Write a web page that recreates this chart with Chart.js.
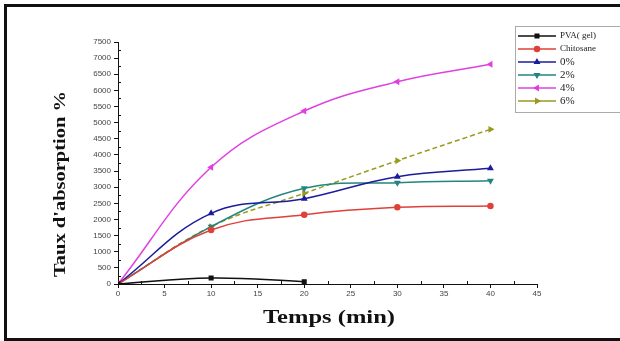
<!DOCTYPE html>
<html><head><meta charset="utf-8">
<script src="https://cdn.jsdelivr.net/npm/chart.js@4/dist/chart.umd.min.js"></script>
<style>
html,body{margin:0;padding:0;background:#fff;}
#wrap{position:absolute;left:0;top:0;width:620px;height:341px;}
#frame{position:absolute;left:4px;top:4px;width:620px;height:331px;border:3px solid #111;box-sizing:content-box;pointer-events:none;}
canvas{position:absolute;left:0;top:0;}
</style></head>
<body>
<div id="wrap"><canvas id="c" width="620" height="341"></canvas><div id="frame"></div></div>
<script>
const timesPVA = [0, 10, 20];
const timesAll = [0, 10, 20, 30, 40];
const pva = [0, 186, 72];
const chitosane = [0, 1673, 2148, 2376, 2417];
const s0 = [0, 2190, 2644, 3326, 3584];
const s2 = [0, 1777, 2965, 3140, 3202];
const s4 = [0, 3616, 5361, 6270, 6808];
const s6 = [0, 1777, 2810, 3822, 4793];
const seriesLabels = ['PVA( gel)', 'Chitosane', '0%', '2%', '4%', '6%'];
const xTicks = [0, 5, 10, 15, 20, 25, 30, 35, 40, 45];

function pts(xs, ys){ return ys.map((v,i)=>({x:xs[i], y:v})); }

const styles = [
  {c:'#111111', p:'rect', r:0, d:[]},
  {c:'#e0403a', p:'circle', r:0, d:[]},
  {c:'#1c1c9a', p:'triangle', r:0, d:[]},
  {c:'#23857f', p:'triangle', r:180, d:[]},
  {c:'#e040e0', p:'triangle', r:-90, d:[]},
  {c:'#9a9a1e', p:'triangle', r:90, d:[5,3]}
];
const allData = [pts(timesPVA,pva), pts(timesAll,chitosane), pts(timesAll,s0), pts(timesAll,s2), pts(timesAll,s4), pts(timesAll,s6)];

const datasets = allData.map((d,i)=>({
  label: seriesLabels[i], data: d,
  borderColor: styles[i].c, backgroundColor: styles[i].c,
  pointStyle: styles[i].p, pointRotation: styles[i].r,
  pointRadius: 2.5, borderWidth: 1.5, borderDash: styles[i].d,
  tension: 0.4, fill: false
}));

function fitText(ctx, text, cx, cy, width, font, rot){
  ctx.save();
  ctx.font = font;
  const w = ctx.measureText(text).width;
  ctx.translate(cx, cy);
  if (rot) ctx.rotate(rot);
  ctx.scale(width / w, 1);
  ctx.textAlign = 'center'; ctx.textBaseline = 'middle';
  ctx.fillText(text, 0, 0);
  ctx.restore();
}

const extras = {
  id:'extras',
  afterDraw(chart){
    const ctx = chart.ctx;
    const xs = chart.scales.x, ys = chart.scales.y;
    ctx.save();
    ctx.strokeStyle = '#111'; ctx.lineWidth = 1;
    for (let v = 2.5; v < 45; v += 5){
      const px = Math.round(xs.getPixelForValue(v)) + 0.5;
      ctx.beginPath(); ctx.moveTo(px, ys.bottom); ctx.lineTo(px, ys.bottom - 3); ctx.stroke();
    }
    for (let v = 250; v < 7500; v += 500){
      const py = Math.round(ys.getPixelForValue(v)) + 0.5;
      ctx.beginPath(); ctx.moveTo(xs.left, py); ctx.lineTo(xs.left + 3, py); ctx.stroke();
    }
    ctx.fillStyle = '#111';
    fitText(ctx, 'Temps (min)', 329, 318, 132, 'bold 18px "Liberation Serif", "DejaVu Serif", serif', 0);
    fitText(ctx, "Taux d'absorption %", 61, 184, 186, 'bold 17px "Liberation Serif", "DejaVu Serif", serif', -Math.PI/2);
    // legend
    const lx = 515, ly = 26, lw = 110, lh = 86;
    ctx.strokeStyle = '#aaa'; ctx.lineWidth = 1;
    ctx.strokeRect(lx + 0.5, ly + 0.5, lw, lh);
    chart.data.datasets.forEach((ds, i)=>{
      const y = 36 + i * 13;
      ctx.strokeStyle = ds.borderColor; ctx.lineWidth = 1.5; ctx.setLineDash([]);
      ctx.beginPath(); ctx.moveTo(518, y); ctx.lineTo(556, y); ctx.stroke();
      Chart.helpers.drawPoint(ctx, {pointStyle: ds.pointStyle, rotation: ds.pointRotation, radius: 2.5, borderWidth: 1}, 537, y);
      ctx.fillStyle = ds.borderColor;
      ctx.fill();
      ctx.fillStyle = '#222';
      ctx.font = (i < 2 ? '9px' : '11px') + ' "Liberation Serif", "DejaVu Serif", serif';
      ctx.textAlign = 'left'; ctx.textBaseline = 'middle';
      ctx.fillText(ds.label, 560, y);
    });
    ctx.restore();
  }
};

new Chart(document.getElementById('c'), {
  type: 'line',
  data: { datasets },
  options: {
    responsive: false, animation: false,
    layout: { padding: { left: 0, right: 83, top: 42, bottom: 0 } },
    plugins: { legend: { display: false }, tooltip: { enabled: false } },
    scales: {
      x: {
        type: 'linear', min: 0, max: 45,
        afterBuildTicks: s => { s.ticks = xTicks.map(v=>({value:v})); },
        ticks: { color: '#444', font: { size: 8, family: 'Arial, "Liberation Sans", sans-serif' }, padding: 1, maxRotation: 0, callback: v => String(v) },
        grid: { display: true, drawOnChartArea: false, drawTicks: true, tickLength: 4, color: '#111' },
        border: { display: true, color: '#111', width: 1 },
        afterFit: s => { s.height = 57; }
      },
      y: {
        type: 'linear', min: 0, max: 7500,
        ticks: { stepSize: 500, color: '#444', font: { size: 8, family: 'Arial, "Liberation Sans", sans-serif' }, padding: 3, callback: v => String(v) },
        grid: { display: true, drawOnChartArea: false, drawTicks: true, tickLength: 4, color: '#111' },
        border: { display: true, color: '#111', width: 1 },
        afterFit: s => { s.width = 118; }
      }
    }
  },
  plugins: [extras]
});
</script>
</body></html>
